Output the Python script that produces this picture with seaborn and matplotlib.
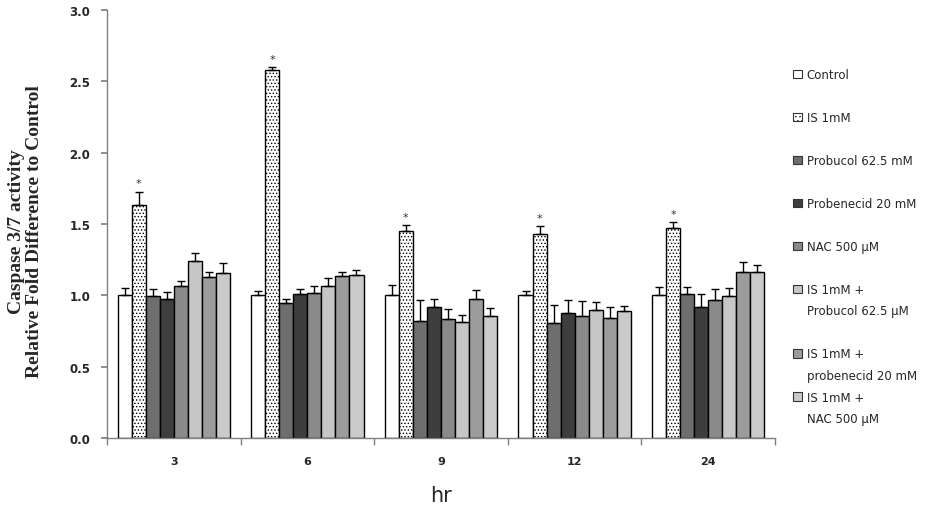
import numpy as np
import pandas as pd
import matplotlib
matplotlib.use("Agg")
import matplotlib.pyplot as plt
from matplotlib.patches import Patch
import seaborn as sns

hours = ["3", "6", "9", "12", "24"]
treatments = ["Control", "IS 1mM", "Probucol 62.5 mM", "Probenecid 20 mM", "NAC 500 μM",
              "IS 1mM + Probucol 62.5 μM", "IS 1mM + probenecid 20 mM", "IS 1mM + NAC 500 μM"]

control = [1.00, 1.00, 1.00, 1.00, 1.00]
is_1mm = [1.635, 2.579, 1.453, 1.430, 1.472]
probucol = [0.995, 0.946, 0.820, 0.806, 1.009]
probenecid = [0.972, 1.009, 0.916, 0.876, 0.916]
nac = [1.065, 1.016, 0.832, 0.853, 0.965]
is_probucol = [1.238, 1.065, 0.813, 0.895, 0.993]
is_probenecid = [1.128, 1.135, 0.972, 0.839, 1.161]
is_nac = [1.156, 1.142, 0.855, 0.888, 1.161]

control_err = [0.050, 0.033, 0.075, 0.033, 0.061]
is_1mm_err = [0.090, 0.020, 0.037, 0.054, 0.040]
probucol_err = [0.050, 0.028, 0.145, 0.126, 0.047]
probenecid_err = [0.050, 0.035, 0.056, 0.089, 0.093]
nac_err = [0.033, 0.049, 0.070, 0.105, 0.077]
is_probucol_err = [0.056, 0.056, 0.049, 0.056, 0.056]
is_probenecid_err = [0.033, 0.026, 0.063, 0.077, 0.070]
is_nac_err = [0.068, 0.035, 0.054, 0.037, 0.053]

colors = ["#ffffff", "#ffffff", "#6e6e6e", "#3e3e3e", "#8a8a8a", "#c6c6c6", "#9c9c9c", "#cacaca"]

means = [control, is_1mm, probucol, probenecid, nac, is_probucol, is_probenecid, is_nac]
errs = [control_err, is_1mm_err, probucol_err, probenecid_err, nac_err,
        is_probucol_err, is_probenecid_err, is_nac_err]

rows = []
for t, vals in zip(treatments, means):
    for h, v in zip(hours, vals):
        rows.append({"hr": h, "treatment": t, "value": v})
df = pd.DataFrame(rows)

sns.set_theme(style="white")
plt.rcParams["font.family"] = ["DejaVu Sans"]
plt.rcParams["hatch.linewidth"] = 0.6

fig = plt.figure(figsize=(9.29, 5.10), dpi=100)
ax = fig.add_axes([107 / 929, 1 - 439 / 510, 668 / 929, 428 / 510])

sns.barplot(data=df, x="hr", y="value", hue="treatment", order=hours, hue_order=treatments,
            palette=colors, width=0.84, edgecolor="black", linewidth=1, errorbar=None,
            legend=False, saturation=1, ax=ax)

bar_groups = list(ax.containers)
for i, cont in enumerate(bar_groups):
    xs = [b.get_x() + b.get_width() / 2 for b in cont]
    hs = [b.get_height() for b in cont]
    if i == 1:
        for b in cont:
            b.set_hatch(".....")
    ax.errorbar(xs, hs, yerr=[np.zeros(len(hs)), errs[i]], fmt="none", ecolor="black",
                elinewidth=1, capsize=3, capthick=1, zorder=3)
    if i == 1:
        for x, h, e in zip(xs, hs, errs[i]):
            ax.text(x, h + e + 0.025, "*", ha="center", va="bottom", fontsize=8, color="#333333")

ax.set_ylim(0, 3.0)
ax.set_xlim(-0.5, 4.5)
ax.set_yticks(np.arange(0, 3.01, 0.5))
ax.set_yticklabels([f"{v:.1f}" for v in np.arange(0, 3.01, 0.5)], fontweight="bold", fontsize=8.5)
ax.set_xticks(range(len(hours)))
ax.set_xticklabels(hours, fontweight="bold", fontsize=8)
ax.set_xticks(np.arange(-0.5, 5, 1), minor=True)
ax.tick_params(axis="x", which="major", length=0, pad=13)
ax.tick_params(axis="x", which="minor", length=5, bottom=True, direction="out", color="#808080")
ax.tick_params(axis="y", length=4, left=True, direction="out", color="#808080", pad=8)

for s in ["top", "right"]:
    ax.spines[s].set_visible(False)
for s in ["left", "bottom"]:
    ax.spines[s].set_color("#808080")
    ax.spines[s].set_linewidth(1)

ax.set_xlabel("hr", fontsize=15, labelpad=14)
ax.set_ylabel("Caspase 3/7 activity\nRelative Fold Difference to Control",
              fontfamily="Liberation Serif", fontweight="bold", fontsize=14, linespacing=1.05)
ax.yaxis.set_label_coords(-0.096, 0.485)

# legend rows (blank rows keep the spacing of the original)
blank = Patch(facecolor="none", edgecolor="none")
def sw(c, hatch=None):
    return Patch(facecolor=c, edgecolor="#333333", linewidth=0.8, hatch=hatch)

handles = [sw(colors[0]), blank, sw(colors[1], "...."), blank, sw(colors[2]), blank,
           sw(colors[3]), blank, sw(colors[4]), blank,
           sw(colors[5]), blank, blank, sw(colors[6]), blank, sw(colors[7]), blank]
labels = ["Control", "", "IS 1mM", "", "Probucol 62.5 mM", "", "Probenecid 20 mM", "",
          "NAC 500 μM", "", "IS 1mM +", "Probucol 62.5 μM", "", "IS 1mM +",
          "probenecid 20 mM", "IS 1mM +", "NAC 500 μM"]
fig.legend(handles, labels, loc="upper left", bbox_to_anchor=(793 / 929, 1 - 69 / 510),
           frameon=False, fontsize=8.5, labelspacing=0.72, handlelength=0.75,
           handleheight=0.75, handletextpad=0.4, borderpad=0, borderaxespad=0)

fig.savefig("out.png", dpi=100)
